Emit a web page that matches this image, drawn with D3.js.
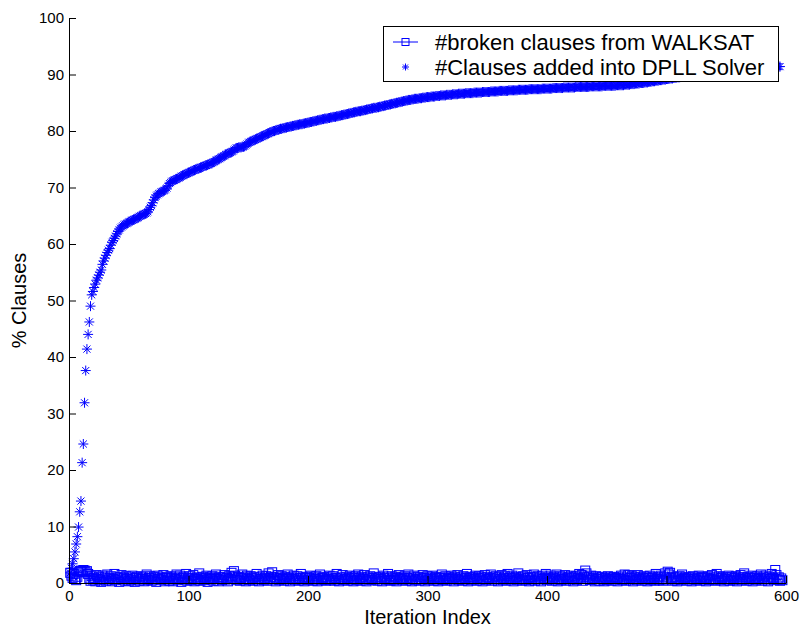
<!DOCTYPE html>
<html>
<head>
<meta charset="utf-8">
<script src="https://cdn.jsdelivr.net/npm/d3@7"></script>
<style>
  body { margin: 0; background: #fff; }
  svg { display: block; }
  text { font-family: "Liberation Sans", Arial, Helvetica, sans-serif; fill: #000; }
</style>
</head>
<body>
<svg id="chart" width="800" height="628"></svg>
<script>
const xTicks = [0, 100, 200, 300, 400, 500, 600];
const yTicks = [0, 10, 20, 30, 40, 50, 60, 70, 80, 90, 100];
const xTitle = "Iteration Index";
const yTitle = "% Clauses";
const legendLabels = ["#broken clauses from WALKSAT", "#Clauses added into DPLL Solver"];

// % clauses added into the DPLL solver, iterations 1..595
const clausesAdded = [
  1.8, 2.6, 3.4, 4.3, 5.5, 6.9, 8.2, 9.9, 12.6, 14.5,
  21.3, 24.6, 31.9, 37.6, 41.4, 44.0, 46.2, 49.0, 51.0, 51.6,
  52.3, 52.9, 53.6, 54.0, 54.5, 55.0, 55.4, 56.4, 57.0, 57.5,
  58.0, 58.5, 58.9, 59.2, 59.8, 60.3, 60.6, 61.0, 61.4, 61.8,
  62.2, 62.5, 62.8, 63.0, 63.2, 63.4, 63.5, 63.6, 63.7, 63.9,
  64.0, 64.1, 64.2, 64.3, 64.4, 64.5, 64.6, 64.7, 64.9, 65.0,
  65.1, 65.2, 65.3, 65.4, 65.5, 65.7, 66.1, 66.5, 66.8, 67.3,
  67.8, 68.2, 68.5, 68.7, 68.9, 69.0, 69.2, 69.3, 69.4, 69.5,
  69.7, 69.9, 70.3, 70.7, 70.9, 71.1, 71.2, 71.3, 71.4, 71.5,
  71.6, 71.7, 71.8, 72.0, 72.1, 72.2, 72.3, 72.4, 72.5, 72.6,
  72.7, 72.8, 72.9, 73.0, 73.1, 73.2, 73.3, 73.3, 73.4, 73.5,
  73.6, 73.7, 73.8, 73.9, 73.9, 74.0, 74.1, 74.2, 74.3, 74.4,
  74.5, 74.6, 74.8, 74.9, 75.0, 75.1, 75.3, 75.4, 75.5, 75.6,
  75.8, 75.9, 76.0, 76.1, 76.2, 76.3, 76.4, 76.6, 76.8, 77.0,
  77.0, 77.1, 77.1, 77.1, 77.2, 77.2, 77.3, 77.5, 77.7, 77.9,
  78.0, 78.1, 78.2, 78.3, 78.4, 78.5, 78.6, 78.7, 78.8, 78.9,
  79.0, 79.1, 79.2, 79.3, 79.4, 79.5, 79.6, 79.7, 79.8, 79.9,
  80.0, 80.0, 80.1, 80.2, 80.2, 80.3, 80.4, 80.4, 80.5, 80.5,
  80.6, 80.6, 80.7, 80.7, 80.8, 80.8, 80.9, 80.9, 81.0, 81.0,
  81.1, 81.1, 81.2, 81.2, 81.2, 81.3, 81.3, 81.4, 81.4, 81.5,
  81.5, 81.6, 81.6, 81.7, 81.7, 81.8, 81.8, 81.9, 81.9, 82.0,
  82.0, 82.1, 82.1, 82.2, 82.2, 82.2, 82.3, 82.3, 82.4, 82.4,
  82.5, 82.5, 82.5, 82.6, 82.6, 82.7, 82.7, 82.8, 82.8, 82.9,
  82.9, 83.0, 83.0, 83.1, 83.1, 83.2, 83.2, 83.3, 83.3, 83.4,
  83.4, 83.5, 83.5, 83.5, 83.6, 83.6, 83.7, 83.7, 83.8, 83.8,
  83.9, 83.9, 84.0, 84.0, 84.1, 84.1, 84.1, 84.2, 84.2, 84.3,
  84.3, 84.4, 84.4, 84.5, 84.5, 84.6, 84.6, 84.7, 84.7, 84.8,
  84.8, 84.9, 84.9, 85.0, 85.0, 85.1, 85.1, 85.2, 85.2, 85.3,
  85.3, 85.4, 85.4, 85.5, 85.5, 85.5, 85.6, 85.6, 85.7, 85.7,
  85.7, 85.7, 85.8, 85.8, 85.8, 85.9, 85.9, 85.9, 86.0, 86.0,
  86.0, 86.0, 86.1, 86.1, 86.1, 86.1, 86.2, 86.2, 86.2, 86.2,
  86.3, 86.3, 86.3, 86.3, 86.3, 86.4, 86.4, 86.4, 86.4, 86.4,
  86.5, 86.5, 86.5, 86.5, 86.5, 86.6, 86.6, 86.6, 86.6, 86.6,
  86.6, 86.7, 86.7, 86.7, 86.7, 86.7, 86.7, 86.7, 86.8, 86.8,
  86.8, 86.8, 86.8, 86.8, 86.8, 86.9, 86.9, 86.9, 86.9, 86.9,
  86.9, 86.9, 87.0, 87.0, 87.0, 87.0, 87.0, 87.0, 87.0, 87.1,
  87.1, 87.1, 87.1, 87.1, 87.1, 87.1, 87.1, 87.2, 87.2, 87.2,
  87.2, 87.2, 87.2, 87.2, 87.2, 87.3, 87.3, 87.3, 87.3, 87.3,
  87.3, 87.3, 87.3, 87.3, 87.4, 87.4, 87.4, 87.4, 87.4, 87.4,
  87.4, 87.4, 87.4, 87.4, 87.4, 87.5, 87.5, 87.5, 87.5, 87.5,
  87.5, 87.5, 87.5, 87.5, 87.6, 87.6, 87.6, 87.6, 87.6, 87.6,
  87.6, 87.6, 87.6, 87.7, 87.7, 87.7, 87.7, 87.7, 87.7, 87.7,
  87.7, 87.7, 87.7, 87.8, 87.8, 87.8, 87.8, 87.8, 87.8, 87.8,
  87.8, 87.8, 87.8, 87.8, 87.8, 87.9, 87.9, 87.9, 87.9, 87.9,
  87.9, 87.9, 87.9, 87.9, 87.9, 87.9, 88.0, 88.0, 88.0, 88.0,
  88.0, 88.0, 88.0, 88.0, 88.0, 88.0, 88.0, 88.1, 88.1, 88.1,
  88.1, 88.1, 88.1, 88.1, 88.2, 88.2, 88.2, 88.2, 88.2, 88.3,
  88.3, 88.3, 88.3, 88.4, 88.4, 88.4, 88.4, 88.5, 88.5, 88.5,
  88.5, 88.6, 88.6, 88.6, 88.7, 88.7, 88.7, 88.8, 88.8, 88.8,
  88.9, 88.9, 88.9, 89.0, 89.0, 89.0, 89.1, 89.1, 89.1, 89.2,
  89.2, 89.2, 89.3, 89.3, 89.3, 89.4, 89.4, 89.4, 89.5, 89.5,
  89.5, 89.6, 89.6, 89.6, 89.7, 89.7, 89.7, 89.8, 89.8, 89.8,
  89.9, 89.9, 89.9, 90.0, 90.0, 90.0, 90.0, 90.1, 90.1, 90.1,
  90.1, 90.2, 90.2, 90.2, 90.2, 90.3, 90.3, 90.3, 90.3, 90.4,
  90.4, 90.4, 90.4, 90.5, 90.5, 90.5, 90.5, 90.6, 90.6, 90.6,
  90.6, 90.7, 90.7, 90.7, 90.7, 90.8, 90.8, 90.8, 90.8, 90.9,
  90.9, 90.9, 90.9, 91.0, 91.0, 91.0, 91.0, 91.0, 91.1, 91.1,
  91.1, 91.1, 91.1, 91.2, 91.2, 91.2, 91.2, 91.2, 91.2, 91.3,
  91.3, 91.3, 91.3, 91.3, 91.3, 91.3, 91.4, 91.4, 91.4, 91.4,
  91.4, 91.4, 91.4, 91.4, 91.4
];

// % broken clauses from WALKSAT, iterations 1..597
const brokenClauses = [
  1.8, 1.3, 0.9, 1.6, 0.7, 0.5, 1.1, 1.9, 2.1, 2.2, 2.0, 2.3, 2.2, 1.9, 2.1, 1.6, 0.8, 0.4, 1.2, 0.6,
  0.9, 0.3, 1.4, 0.7, 1.1, 0.5, 0.2, 1.3, 0.8, 1.0, 0.4, 1.5, 0.6, 0.9, 1.2, 0.3, 0.7, 1.6, 0.5, 1.0,
  0.8, 0.2, 1.1, 1.4, 0.6, 0.9, 0.4, 1.2, 0.7, 0.3, 1.0, 0.5, 1.3, 0.8, 0.2, 0.9, 1.1, 0.6, 0.4, 1.2,
  0.7, 1.0, 0.3, 0.8, 1.5, 0.5, 0.9, 1.2, 0.4, 0.6, 1.1, 0.8, 0.2, 1.3, 0.7, 1.0, 0.5, 0.9, 1.4, 0.3,
  0.8, 1.1, 0.6, 0.4, 1.2, 0.9, 0.3, 1.0, 0.7, 1.5, 0.5, 0.8, 1.3, 0.2, 0.9, 1.1, 0.6, 1.6, 0.4, 0.8,
  1.2, 0.5, 0.9, 1.4, 0.3, 0.7, 1.0, 0.6, 1.7, 0.4, 0.8, 1.1, 0.5, 0.9, 1.3, 0.2, 0.7, 1.0, 0.6, 1.2,
  0.4, 0.9, 1.5, 0.7, 0.3, 1.1, 0.8, 0.5, 1.0, 1.4, 0.6, 0.9, 0.3, 1.2, 0.7, 1.8, 1.0, 2.1, 1.3, 0.5,
  0.8, 1.1, 0.4, 0.9, 1.5, 0.6, 1.0, 0.3, 1.3, 0.7, 0.5, 1.2, 0.9, 0.4, 1.1, 0.8, 1.6, 0.6, 0.3, 1.0,
  0.7, 1.3, 0.5, 0.9, 1.2, 0.4, 1.7, 0.8, 1.1, 1.9, 0.6, 1.0, 0.3, 0.8, 1.4, 0.5, 0.9, 1.2, 0.7, 0.4,
  1.1, 0.6, 1.5, 0.9, 0.3, 1.0, 0.7, 1.3, 0.5, 0.8, 1.2, 0.4, 0.9, 1.6, 0.6, 1.0, 0.3, 0.8, 1.1, 0.5,
  0.9, 1.3, 0.6, 0.4, 1.0, 0.7, 1.2, 0.3, 0.8, 1.5, 0.5, 0.9, 1.1, 0.6, 0.4, 1.0, 0.7, 1.3, 0.5, 0.8,
  1.2, 0.4, 0.9, 1.6, 0.6, 0.3, 1.0, 0.8, 1.4, 0.5, 0.7, 1.1, 0.4, 0.9, 1.3, 0.6, 1.0, 0.3, 0.8, 1.2,
  0.5, 1.5, 0.9, 0.4, 1.1, 0.7, 1.4, 0.6, 0.3, 1.0, 0.8, 1.2, 0.5, 0.9, 1.7, 0.6, 1.0, 0.4, 0.8, 1.1,
  0.7, 0.3, 1.3, 0.9, 0.5, 1.0, 1.6, 0.6, 0.4, 1.2, 0.8, 0.5, 1.1, 0.3, 0.9, 1.4, 0.7, 1.0, 0.5, 0.8,
  1.2, 0.4, 0.9, 1.5, 0.6, 1.0, 0.3, 0.8, 1.3, 0.5, 0.7, 1.1, 0.4, 1.0, 0.6, 1.4, 0.9, 0.3, 0.8, 1.2,
  0.5, 1.0, 0.7, 1.3, 0.4, 0.9, 1.1, 0.6, 0.3, 1.0, 0.8, 1.5, 0.5, 0.9, 1.2, 0.4, 0.7, 1.0, 0.6, 1.3,
  0.9, 0.3, 1.1, 0.7, 1.4, 0.5, 0.8, 1.0, 0.4, 1.2, 0.6, 0.9, 1.6, 0.3, 0.8, 1.1, 0.5, 1.0, 0.7, 1.3,
  0.4, 0.9, 1.2, 0.6, 1.0, 0.3, 0.8, 1.4, 0.5, 1.1, 0.7, 0.9, 1.5, 0.4, 1.0, 0.6, 1.2, 0.8, 0.3, 1.1,
  0.7, 1.4, 0.5, 0.9, 1.2, 0.4, 1.6, 0.8, 1.0, 0.6, 1.3, 0.3, 0.9, 1.1, 0.5, 1.7, 0.7, 1.0, 0.4, 1.2,
  0.8, 0.5, 1.4, 0.9, 0.3, 1.1, 0.6, 1.0, 1.5, 0.4, 0.8, 1.2, 0.6, 1.0, 0.3, 1.3, 0.7, 0.9, 1.6, 0.5,
  1.0, 0.7, 1.3, 0.4, 0.9, 1.1, 0.6, 1.5, 0.3, 0.8, 1.2, 0.5, 1.0, 0.7, 1.4, 0.4, 0.9, 1.1, 0.6, 1.3,
  0.8, 0.3, 1.0, 1.2, 0.5, 0.9, 1.6, 0.7, 1.4, 0.4, 1.1, 2.2, 1.7, 0.8, 1.0, 0.5, 1.3, 0.6, 0.9, 0.3,
  1.2, 0.7, 1.0, 0.4, 0.8, 1.1, 0.6, 0.3, 0.9, 0.5, 1.2, 0.7, 1.0, 0.4, 0.8, 1.1, 0.6, 0.9, 0.3, 1.0,
  0.7, 1.3, 0.5, 0.8, 1.5, 0.4, 1.0, 1.4, 0.6, 0.9, 1.2, 0.3, 0.8, 1.1, 0.5, 1.4, 0.7, 1.0, 0.4, 0.9,
  1.2, 0.6, 1.0, 0.3, 0.8, 1.3, 0.5, 0.9, 1.1, 0.4, 1.6, 0.7, 1.0, 0.5, 1.3, 0.8, 0.4, 1.1, 1.7, 0.6,
  2.0, 1.5, 1.8, 0.9, 0.4, 1.1, 0.6, 1.0, 0.3, 0.8, 1.2, 0.5, 1.5, 0.7, 0.9, 1.1, 0.4, 0.8, 1.0, 0.6,
  0.3, 1.2, 0.7, 1.0, 0.5, 0.9, 1.3, 0.4, 0.8, 1.1, 0.6, 1.0, 0.3, 0.9, 1.2, 0.5, 0.7, 1.4, 0.6, 1.0,
  0.4, 1.6, 0.8, 1.2, 0.5, 0.9, 1.1, 0.3, 0.7, 1.0, 0.6, 1.3, 0.4, 0.8, 1.1, 0.5, 0.9, 1.2, 0.3, 1.0,
  0.7, 1.4, 0.5, 1.0, 1.7, 0.8, 0.4, 1.1, 0.6, 0.9, 1.3, 0.3, 0.8, 1.0, 0.5, 1.2, 0.7, 0.9, 1.5, 0.4,
  1.0, 0.6, 1.3, 0.8, 0.3, 1.1, 0.7, 1.6, 0.9, 0.5, 2.3, 1.4, 0.6, 1.0, 0.4, 0.8, 0.5
];

const blue = "#0000ff";
const svg = d3.select("#chart");

const x = d3.scaleLinear().domain([0, 600]).range([69, 786]);
const y = d3.scaleLinear().domain([0, 100]).range([583, 18]);

// star marker: "+" and "x" overlaid, like matlab's '*'
function starPath(r) {
  const d = r * 0.7071;
  return "M" + (-r) + ",0H" + r + "M0," + (-r) + "V" + r +
    "M" + (-d) + "," + (-d) + "L" + d + "," + d +
    "M" + (-d) + "," + d + "L" + d + "," + (-d);
}

// broken clauses: line with open squares
const brokenPts = brokenClauses.map((v, i) => [i + 1, v]);
svg.append("path")
  .datum(brokenPts)
  .attr("fill", "none")
  .attr("stroke", blue)
  .attr("stroke-width", 1)
  .attr("d", d3.line().x(d => x(d[0])).y(d => y(d[1])));

const sq = 9;
svg.append("g")
  .selectAll("rect")
  .data(brokenPts)
  .join("rect")
  .attr("x", d => x(d[0]) - sq / 2)
  .attr("y", d => y(d[1]) - sq / 2)
  .attr("width", sq)
  .attr("height", sq)
  .attr("fill", "none")
  .attr("stroke", blue)
  .attr("stroke-width", 1);

// clauses added: star markers only
const addedPts = clausesAdded.map((v, i) => [i + 1, v]);
svg.append("g")
  .selectAll("path")
  .data(addedPts)
  .join("path")
  .attr("transform", d => "translate(" + x(d[0]) + "," + y(d[1]) + ")")
  .attr("d", starPath(5))
  .attr("fill", "none")
  .attr("stroke", blue)
  .attr("stroke-width", 1);

// axes, ticks pointing inward, no box
const yAxis = svg.append("g")
  .attr("transform", "translate(69,0)")
  .call(d3.axisLeft(y).tickValues(yTicks).tickSizeInner(-7).tickSizeOuter(0).tickPadding(5));
const xAxis = svg.append("g")
  .attr("transform", "translate(0,583)")
  .call(d3.axisBottom(x).tickValues(xTicks).tickSizeInner(-7).tickSizeOuter(0).tickPadding(7));

[xAxis, yAxis].forEach(a => {
  a.selectAll("path, line").attr("stroke", "#000");
  a.selectAll("text")
    .style("font-family", '"Liberation Sans", Arial, sans-serif')
    .style("font-size", "15px")
    .attr("fill", "#000");
});

svg.append("text")
  .attr("x", (x.range()[0] + x.range()[1]) / 2)
  .attr("y", 623.5)
  .attr("text-anchor", "middle")
  .style("font-size", "20px")
  .text(xTitle);

svg.append("text")
  .attr("transform", "translate(26," + (y.range()[0] + y.range()[1]) / 2 + ") rotate(-90)")
  .attr("text-anchor", "middle")
  .style("font-size", "20px")
  .text(yTitle);

// legend
const lg = svg.append("g");
lg.append("rect")
  .attr("x", 383.5).attr("y", 26.5)
  .attr("width", 395).attr("height", 55)
  .attr("fill", "#fff").attr("stroke", "#000").attr("stroke-width", 1);

const rowY = [42, 67];
lg.append("line")
  .attr("x1", 393).attr("x2", 418)
  .attr("y1", rowY[0]).attr("y2", rowY[0])
  .attr("stroke", blue);
lg.append("rect")
  .attr("x", 405.5 - 3.5).attr("y", rowY[0] - 3.5)
  .attr("width", 7).attr("height", 7)
  .attr("fill", "none").attr("stroke", blue);
lg.append("path")
  .attr("transform", "translate(405.5," + rowY[1] + ")")
  .attr("d", starPath(3.5))
  .attr("fill", "none").attr("stroke", blue);

lg.selectAll("text.lab")
  .data(legendLabels)
  .join("text")
  .attr("class", "lab")
  .attr("x", 435)
  .attr("y", (d, i) => rowY[i] + 8)
  .style("font-size", "22px")
  .text(d => d);
</script>
</body>
</html>
